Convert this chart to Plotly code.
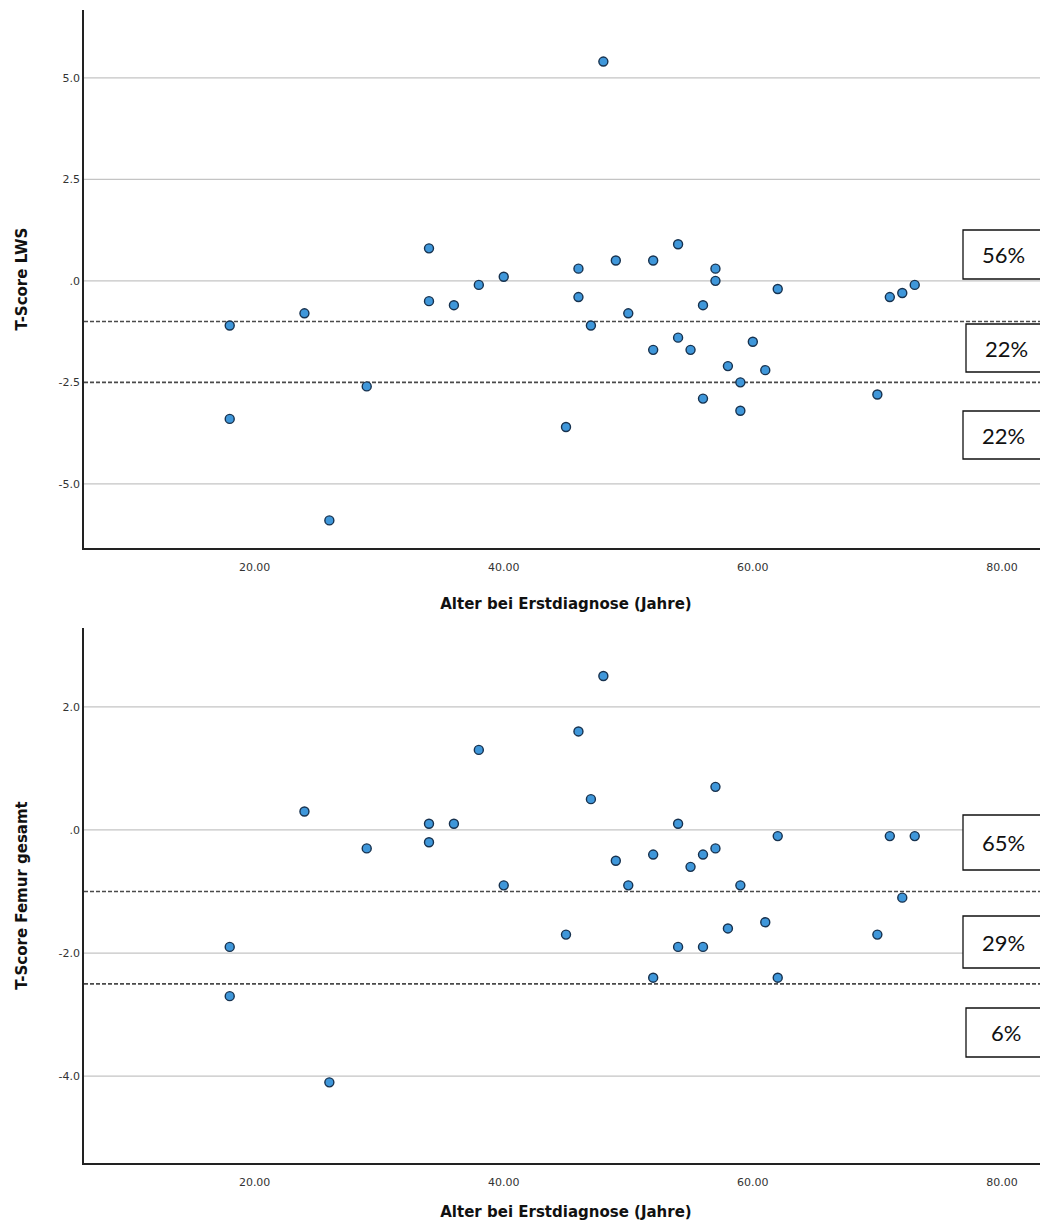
import plotly.graph_objects as go
from plotly.subplots import make_subplots

# ---------------- data ----------------
age_lws = [18, 18, 24, 26, 29, 34, 34, 36, 38, 40, 45, 46, 46, 47, 48, 49, 50, 52, 52,
           54, 54, 55, 56, 56, 57, 57, 58, 59, 59, 60, 61, 62, 70, 71, 72, 73]
tscore_lws = [-1.1, -3.4, -0.8, -5.9, -2.6, 0.8, -0.5, -0.6, -0.1, 0.1, -3.6, 0.3, -0.4,
              -1.1, 5.4, 0.5, -0.8, 0.5, -1.7, 0.9, -1.4, -1.7, -0.6, -2.9, 0.3, 0.0,
              -2.1, -2.5, -3.2, -1.5, -2.2, -0.2, -2.8, -0.4, -0.3, -0.1]

age_femur = [18, 18, 24, 26, 29, 34, 34, 36, 38, 40, 45, 46, 47, 48, 49, 50, 52, 52,
             54, 54, 55, 56, 56, 57, 57, 58, 59, 61, 62, 62, 70, 71, 72, 73]
tscore_femur = [-1.9, -2.7, 0.3, -4.1, -0.3, 0.1, -0.2, 0.1, 1.3, -0.9, -1.7, 1.6, 0.5,
                2.5, -0.5, -0.9, -0.4, -2.4, 0.1, -1.9, -0.6, -0.4, -1.9, 0.7, -0.3,
                -1.6, -0.9, -1.5, -0.1, -2.4, -1.7, -0.1, -1.1, -0.1]

thresholds = [-1.0, -2.5]
pct_lws = ["56%", "22%", "22%"]
pct_femur = ["65%", "29%", "6%"]

x_tickvals = [20, 40, 60, 80]
x_ticktext = ["20.00", "40.00", "60.00", "80.00"]
y1_tickvals = [-5, -2.5, 0, 2.5, 5]
y1_ticktext = ["-5.0", "-2.5", ".0", "2.5", "5.0"]
y2_tickvals = [-4, -2, 0, 2]
y2_ticktext = ["-4.0", "-2.0", ".0", "2.0"]

x_title = "Alter bei Erstdiagnose (Jahre)"
y1_title = "T-Score LWS"
y2_title = "T-Score Femur gesamt"

# ---------------- layout geometry (screen pixels) ----------------
OFF = 8  # page body margin
SW, SH = 1048, 1229
PL, PR, PT, PB = 84, 1048, 10, 1163  # plot area on screen
PW, PH = PR - PL, PB - PT

W, H = SW - OFF, SH - 2 * OFF


def px(xp):
    return (xp - PL) / PW


def py(yp):
    return (PB - yp) / PH


# label boxes: (left, top, bottom) in screen pixels
boxes_top = [(963, 230, 279), (966, 324, 372), (963, 411, 459)]
boxes_bot = [(963, 815, 870), (963, 916, 968), (966, 1008, 1057)]

marker = dict(size=9, color="#3f97da", line=dict(color="#17324f", width=1.4))

fig = make_subplots(rows=2, cols=1)
fig.add_trace(go.Scatter(x=age_lws, y=tscore_lws, mode="markers", marker=marker,
                         showlegend=False), row=1, col=1)
fig.add_trace(go.Scatter(x=age_femur, y=tscore_femur, mode="markers", marker=marker,
                         showlegend=False), row=2, col=1)

tick_font = dict(family="DejaVu Sans", size=11, color="#333333")
title_font = dict(family="DejaVu Sans", size=15, color="#111111", weight="bold")

common_x = dict(range=[6.3, 83.7], tickvals=x_tickvals, ticktext=x_ticktext,
                showgrid=False, zeroline=False, showline=True, linecolor="#222222",
                linewidth=1.5, ticks="", tickfont=tick_font, automargin=False,
                ticklabelstandoff=8)
common_y = dict(showgrid=False, zeroline=False,
                showline=True, linecolor="#222222", linewidth=1.5, ticks="",
                tickfont=tick_font, automargin=False)

fig.update_layout(
    width=W, height=H,
    margin=dict(l=PL - OFF, r=0, t=PT - OFF, b=H - (PB - OFF)),
    paper_bgcolor="white", plot_bgcolor="white",
    xaxis=dict(common_x, anchor="y",
               title=dict(text=x_title, font=title_font, standoff=26)),
    xaxis2=dict(common_x, anchor="y2",
                title=dict(text=x_title, font=title_font, standoff=27)),
    yaxis=dict(common_y, domain=[py(548), 1.0], range=[-6.58, 6.67],
               tickvals=y1_tickvals, ticktext=y1_ticktext,
               title=dict(text=y1_title, font=title_font, standoff=27)),
    yaxis2=dict(common_y, domain=[0.0, py(628)], range=[-5.41, 3.28],
                tickvals=y2_tickvals, ticktext=y2_ticktext,
                title=dict(text=y2_title, font=title_font, standoff=27)),
)

# gridlines (solid) and threshold lines (dotted), below the markers
for xr, yr, grid in [("x domain", "y", y1_tickvals), ("x2 domain", "y2", y2_tickvals)]:
    for g in grid:
        if g in thresholds:
            continue
        fig.add_shape(type="line", xref=xr, yref=yr, x0=0, x1=1, y0=g, y1=g,
                      line=dict(color="#c4c4c4", width=1.2), layer="below")
    for t in thresholds:
        fig.add_shape(type="line", xref=xr, yref=yr, x0=0, x1=1, y0=t, y1=t,
                      line=dict(color="#4a4a4a", width=1.6, dash="4px,2px"),
                      layer="below")

# percentage boxes
for boxes, labels in [(boxes_top, pct_lws), (boxes_bot, pct_femur)]:
    for (left, top, bottom), lab in zip(boxes, labels):
        fig.add_shape(type="rect", xref="paper", yref="paper",
                      x0=px(left), x1=px(1075), y0=py(bottom), y1=py(top),
                      line=dict(color="#111111", width=1.3), fillcolor="white",
                      layer="above")
        fig.add_annotation(xref="paper", yref="paper", x=px(left + 40),
                           y=py((top + bottom) / 2), text=lab, showarrow=False,
                           xanchor="center", yanchor="middle",
                           font=dict(family="Lato", size=22, color="#111111"))

fig.write_html("out.html")
